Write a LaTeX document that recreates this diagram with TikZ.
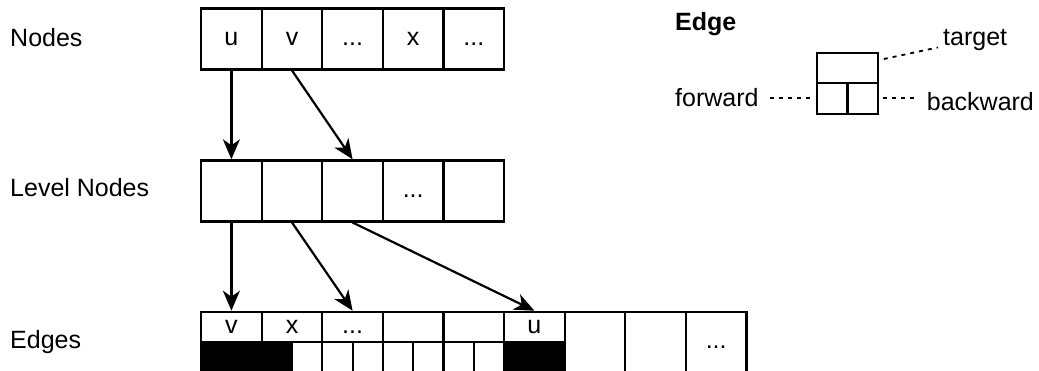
\documentclass[tikz,border=0pt]{standalone}
\usepackage{fontspec}
\setmainfont{Liberation Sans}
\usetikzlibrary{arrows.meta}
\newcommand{\mydots}{...}
\begin{document}
\begin{tikzpicture}[x=1pt,y=-1pt,
  txt/.style={font=\fontsize{25}{30}\selectfont},
  cell/.style={draw, line width=2.2pt, minimum width=60.6pt, minimum height=61pt,
    inner sep=0pt, anchor=north west, txt, text height=18pt, text depth=5.25pt},
  half/.style={cell, minimum height=30pt},
  quarter/.style={cell, minimum width=30.3pt, minimum height=31pt},
  blk/.style={fill=black},
  lbl/.style={txt, inner sep=0pt, anchor=base west},
  arr/.style={line width=2.2pt, -{Stealth[length=20pt,width=17pt,inset=6pt]}},
  dotline/.style={line width=1.8pt, dash pattern=on 4pt off 5pt}]
\useasboundingbox (0,0) rectangle (1039,370);
\clip (0,0) rectangle (1039,370);
\fill[white] (0,0) rectangle (1039,370);

% row labels
\node[lbl] (labN) at (10,46) {Nodes};
\node[lbl] (labL) at (10,196.7) {Level Nodes};
\node[lbl] (labE) at (10,348.3) {Edges};

% Nodes row
\node[cell] (n1) at (200.0,7.3) {u};
\node[cell] (n2) at (260.6,7.3) {v};
\node[cell] (n3) at (321.2,7.3) {\mydots};
\node[cell] (n4) at (381.8,7.3) {x};
\node[cell] (n5) at (442.4,7.3) {\mydots};

% Level Nodes row
\node[cell] (l1) at (200.0,159.3) {};
\node[cell] (l2) at (260.6,159.3) {};
\node[cell] (l3) at (321.2,159.3) {};
\node[cell] (l4) at (381.8,159.3) {\mydots};
\node[cell] (l5) at (442.4,159.3) {};

% Edges row: lower quarters
\foreach \i in {1,2,3,4,5,6}{
  \node[quarter] (f\i a) at ({200+(\i-1)*60.6},340.7) {};
  \node[quarter] (f\i b) at ({230.3+(\i-1)*60.6},340.7) {};
}
\node[quarter,blk,anchor=center] at (f1a.center) {};
\node[quarter,blk,anchor=center] at (f1b.center) {};
\node[quarter,blk,anchor=center] at (f2a.center) {};
\node[quarter,blk,anchor=center] at (f6a.center) {};
\node[quarter,blk,anchor=center] at (f6b.center) {};
% upper halves
\node[half] (e1) at (200.0,310.7) {v};
\node[half] (e2) at (260.6,310.7) {x};
\node[half] (e3) at (321.2,310.7) {\mydots};
\node[half] (e4) at (381.8,310.7) {};
\node[half] (e5) at (442.4,310.7) {};
\node[half] (e6) at (503.0,310.7) {u};
% full cells
\node[cell] (e7) at (563.6,310.7) {};
\node[cell] (e8) at (624.2,310.7) {};
\node[cell] (e9) at (684.8,310.7) {\mydots};

% arrows
\draw[arr] (n1.south) -- (l1.north);
\draw[arr] (n2.south) -- (l3.north);
\draw[arr] (l1.south) -- (e1.north);
\draw[arr] (l2.south) -- (e3.north);
\draw[arr] (l3.south) -- (e6.north);

% legend
\node[lbl, font=\fontsize{25}{30}\selectfont\bfseries] (edgetitle) at (675,30.7) {Edge};
\node[half] (eu) at (816,51.7) {};
\node[quarter] (ebf) at (816,81.7) {};
\node[quarter] (ebb) at (846.5,81.7) {};
\node[lbl] (tg) at (943,45) {target};
\node[lbl] (fw) at (675,106) {forward};
\node[lbl] (bw) at (926.7,110) {backward};
\draw[dotline] ([xshift=5pt,yshift=-7.3pt]eu.north east) -- ([xshift=-5pt,yshift=3pt]tg.south west);
\draw[dotline, shorten <=11.7pt, shorten >=5pt] (fw.east |- ebf.west) -- (ebf.west);
\draw[dotline, shorten <=4pt, shorten >=9.7pt] (ebb.east) -- (ebb.east -| bw.west);
\end{tikzpicture}
\end{document}
